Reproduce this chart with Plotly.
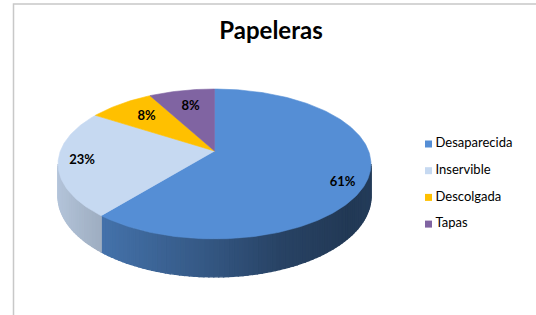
import math
import plotly.graph_objects as go

# ---------------- data ----------------
categories = ["Desaparecida", "Inservible", "Descolgada", "Tapas"]
values = [61, 23, 8, 8]
pct_labels = ["61%", "23%", "8%", "8%"]
title_text = "Papeleras"

# ---------------- style / layout constants ----------------
W, H = 536, 315
top_colors = ["#558ED5", "#C6D9F1", "#FFC000", "#8064A2"]
CX, CY = 214.5, 151.0      # pie centre (screen units)
K = 154.1                  # horizontal radius scale
KB = 72.7                  # vertical (tilted) radius scale
A = 0.173                  # perspective strength
T = 31.4                   # thickness of the disc
label_r = [0.84, 0.85, 0.70, 0.70]
label_dy = [10, 0, 0, 0]
FONT = "Lato, 'Open Sans', sans-serif"

# side shading as a function of horizontal position (0 = left edge, 1 = right)
shade_stops = [(0.0, 0.90), (0.12, 0.81), (0.45, 0.63), (0.71, 0.47), (0.93, 0.40), (1.0, 0.42)]


def shade(t):
    t = min(max(t, 0.0), 1.0)
    for (t0, s0), (t1, s1) in zip(shade_stops[:-1], shade_stops[1:]):
        if t <= t1:
            return s0 + (s1 - s0) * (t - t0) / (t1 - t0)
    return shade_stops[-1][1]


def hex_rgb(h):
    h = h.lstrip("#")
    return tuple(int(h[i:i + 2], 16) for i in (0, 2, 4))


def shaded(hexcol, s):
    r, g, b = hex_rgb(hexcol)
    return "rgb(%d,%d,%d)" % (round(r * s), round(g * s), round(b * s))


def proj(theta_deg, r=1.0, z=0.0):
    t = math.radians(theta_deg)
    X = r * math.sin(t)
    Y = r * math.cos(t)
    w = 1 + A * Y
    return CX + K * X / w, CY - KB * Y / w + z * T / w


total = float(sum(values))
bounds = []
acc = 0.0
for v in values:
    a0 = 360.0 * acc / total
    acc += v
    a1 = 360.0 * acc / total
    bounds.append((a0, a1))


def slice_of(theta):
    for i, (a0, a1) in enumerate(bounds):
        if a0 <= theta < a1:
            return i
    return len(bounds) - 1


fig = go.Figure()

# ---------- visible side wall (front arc) ----------
thR = math.degrees(math.acos(-A))
thL = 360.0 - thR
cuts = sorted([thR, thL] + [b[1] for b in bounds if thR < b[1] < thL])
xmin = min(proj(a)[0] for a in range(0, 360))
xmax = max(proj(a)[0] for a in range(0, 360))
for c0, c1 in zip(cuts[:-1], cuts[1:]):
    n = max(2, int((c1 - c0) / 1.5))
    for j in range(n):
        a = c0 + (c1 - c0) * j / n
        b = c0 + (c1 - c0) * (j + 1) / n
        idx = slice_of((a + b) / 2)
        p1 = proj(a)
        p2 = proj(b)
        p3 = proj(b, z=1)
        p4 = proj(a, z=1)
        tx = ((p1[0] + p2[0]) / 2 - xmin) / (xmax - xmin)
        col = shaded(top_colors[idx], shade(tx))
        fig.add_trace(go.Scatter(
            x=[p1[0], p2[0], p3[0], p4[0], p1[0]],
            y=[p1[1], p2[1], p3[1], p4[1], p1[1]],
            mode="lines", fill="toself", fillcolor=col,
            line=dict(color=col, width=1.4),
            hoverinfo="skip", showlegend=False))

# ---------- top faces ----------
for i, (a0, a1) in enumerate(bounds):
    n = max(3, int((a1 - a0) / 1.0))
    xs, ys = [CX], [CY]
    for j in range(n + 1):
        px, py = proj(a0 + (a1 - a0) * j / n)
        xs.append(px)
        ys.append(py)
    xs.append(CX)
    ys.append(CY)
    fig.add_trace(go.Scatter(
        x=xs, y=ys, mode="lines", fill="toself", fillcolor=top_colors[i],
        line=dict(color=top_colors[i], width=0.6),
        name=categories[i], hoverinfo="name", showlegend=False))

# ---------- data labels ----------
lx, ly = [], []
for i, (a0, a1) in enumerate(bounds):
    px, py = proj((a0 + a1) / 2, r=label_r[i])
    lx.append(px)
    ly.append(py + label_dy[i])
fig.add_trace(go.Scatter(
    x=lx, y=ly, mode="text", text=pct_labels, textposition="middle center",
    textfont=dict(family=FONT, size=13, color="#000000", weight="bold"),
    hoverinfo="skip", showlegend=False))

# ---------- legend (drawn) ----------
LEG_X, LEG_Y0, LEG_DY = 428.5, 144.0, 26.7
leg_y = [LEG_Y0 + LEG_DY * i for i in range(len(categories))]
fig.add_trace(go.Scatter(
    x=[LEG_X] * len(categories), y=leg_y, mode="markers",
    marker=dict(symbol="square", size=7, color=top_colors, line=dict(width=0)),
    hoverinfo="skip", showlegend=False))
fig.add_trace(go.Scatter(
    x=[LEG_X + 7] * len(categories), y=leg_y, mode="text", text=categories,
    textposition="middle right",
    textfont=dict(family=FONT, size=13, color="#000000"),
    hoverinfo="skip", showlegend=False))

fig.update_layout(
    width=W, height=H,
    margin=dict(l=0, r=0, t=0, b=0),
    paper_bgcolor="white", plot_bgcolor="white",
    xaxis=dict(range=[0, W], visible=False, fixedrange=True),
    yaxis=dict(range=[H, 0], visible=False, fixedrange=True),
    title=dict(text="<b>%s</b>" % title_text, x=271 / W, xanchor="center",
               y=1 - 31 / H, yanchor="middle", yref="container",
               font=dict(family=FONT, size=24, color="#000000")),
    shapes=[dict(type="rect", xref="x", yref="y", x0=13.5, y0=4, x1=W + 20, y1=H + 20,
                 line=dict(color="#C8C8C8", width=1.5), fillcolor="rgba(0,0,0,0)", layer="below")],
    showlegend=False,
)

fig.write_html("out.html", config={"displayModeBar": False},
               post_script="document.body.style.margin='0';document.body.style.overflow='hidden';")
